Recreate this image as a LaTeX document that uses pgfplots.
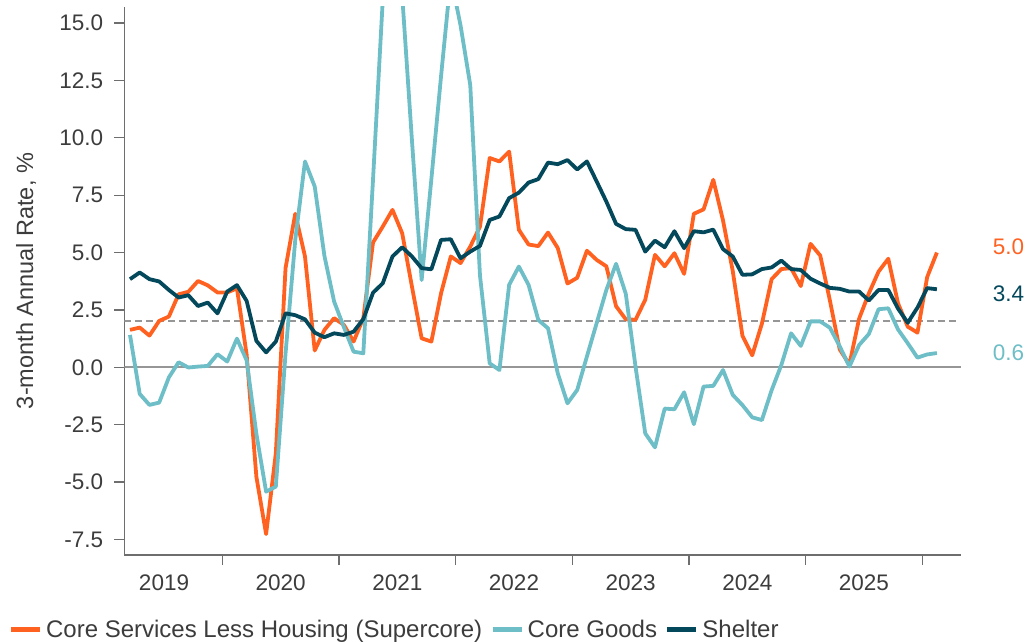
\documentclass[border=0pt]{standalone}
\usepackage{fontspec}
\setmainfont{Liberation Sans}
\usepackage{pgfplots}
\pgfplotsset{compat=1.18}
\usepackage{pgfplotstable}
\definecolor{cOrange}{RGB}{255,98,32}
\definecolor{cCyan}{RGB}{110,190,199}
\definecolor{cDark}{RGB}{4,72,92}
\definecolor{cText}{RGB}{60,60,60}
\definecolor{cAxis}{RGB}{110,110,110}
\definecolor{cRef}{RGB}{150,150,150}

% month index 0..83
\pgfplotstableread{
i v
0 1.63
1 1.73
2 1.38
3 2.02
4 2.21
5 3.18
6 3.29
7 3.76
8 3.57
9 3.26
10 3.26
11 3.44
12 0.55
13 -4.77
14 -7.27
15 -3.75
16 4.32
17 6.69
18 4.83
19 0.73
20 1.63
21 2.14
22 1.85
23 1.12
24 2.14
25 5.44
26 6.13
27 6.86
28 5.84
29 3.52
30 1.26
31 1.12
32 3.23
33 4.83
34 4.54
35 5.26
36 6.13
37 9.12
38 8.97
39 9.40
40 5.99
41 5.35
42 5.28
43 5.87
44 5.20
45 3.65
46 3.90
47 5.08
48 4.68
49 4.40
50 2.66
51 2.09
52 2.07
53 2.94
54 4.90
55 4.40
56 4.97
57 4.07
58 6.69
59 6.88
60 8.17
61 6.40
62 4.20
63 1.37
64 0.52
65 1.90
66 3.84
67 4.28
68 4.32
69 3.54
70 5.38
71 4.87
72 2.90
73 0.78
74 0.12
75 2.12
76 3.22
77 4.17
78 4.73
79 2.79
80 1.77
81 1.51
82 3.93
83 5.00
}\supercore

\pgfplotstableread{
i v
0 1.41
1 -1.16
2 -1.64
3 -1.54
4 -0.44
5 0.22
6 -0.01
7 0.03
8 0.06
9 0.57
10 0.25
11 1.25
12 0.30
13 -2.90
14 -5.42
15 -5.20
16 0.60
17 5.55
18 8.97
19 7.88
20 4.85
21 2.86
22 1.75
23 0.68
24 0.61
25 8.20
26 16.0
27 24.0
28 16.2
29 9.90
30 3.80
31 8.20
32 12.7
33 17.0
34 14.9
35 12.3
36 4.00
37 0.17
38 -0.12
39 3.59
40 4.39
41 3.59
42 2.06
43 1.70
44 -0.26
45 -1.57
46 -0.99
47 0.47
48 1.92
49 3.37
50 4.51
51 3.20
52 0.03
53 -2.88
54 -3.49
55 -1.80
56 -1.83
57 -1.09
58 -2.48
59 -0.84
60 -0.81
61 -0.12
62 -1.20
63 -1.65
64 -2.18
65 -2.30
66 -1.00
67 0.10
68 1.48
69 0.93
70 2.00
71 2.00
72 1.72
73 0.92
74 0.03
75 0.97
76 1.45
77 2.53
78 2.57
79 1.65
80 1.05
81 0.42
82 0.56
83 0.62
}\coregoods

\pgfplotstableread{
i v
0 3.84
1 4.13
2 3.84
3 3.74
4 3.37
5 3.04
6 3.14
7 2.67
8 2.82
9 2.35
10 3.30
11 3.58
12 2.89
13 1.15
14 0.65
15 1.12
16 2.35
17 2.27
18 2.09
19 1.51
20 1.31
21 1.48
22 1.41
23 1.55
24 2.10
25 3.25
26 3.66
27 4.83
28 5.23
29 4.83
30 4.32
31 4.27
32 5.55
33 5.58
34 4.75
35 5.04
36 5.29
37 6.42
38 6.57
39 7.37
40 7.61
41 8.05
42 8.20
43 8.92
44 8.85
45 9.03
46 8.62
47 8.97
48 8.10
49 7.22
50 6.25
51 6.02
52 5.99
53 5.04
54 5.52
55 5.23
56 5.93
57 5.19
58 5.93
59 5.88
60 6.00
61 5.15
62 4.83
63 4.03
64 4.05
65 4.28
66 4.35
67 4.65
68 4.28
69 4.24
70 3.86
71 3.65
72 3.46
73 3.42
74 3.30
75 3.30
76 2.91
77 3.37
78 3.37
79 2.56
80 1.94
81 2.60
82 3.45
83 3.40
}\shelter

\begin{document}
\begin{tikzpicture}
\begin{axis}[
  at={(124.3bp,87bp)}, anchor=south west,
  scale only axis, width=836.7bp, height=548bp,
  xmin=-0.586, xmax=85.48, ymin=-8.18, ymax=15.70,
  axis x line*=bottom, axis y line*=left,
  axis line style={cAxis, line width=1.3bp},
  tick align=outside, major tick length=10bp,
  tick style={cAxis, line width=1.3bp},
  xtick={9.5,21.5,33.5,45.5,57.5,69.5,81.5},
  xticklabels={2019,2020,2021,2022,2023,2024,2025},
  xticklabel style={xshift=-58.33bp, anchor=north, yshift=-10bp},
  ytick={-7.5,-5,-2.5,0,2.5,5,7.5,10,12.5,15},
  yticklabel={\pgfmathprintnumber[fixed,fixed zerofill,precision=1]{\tick}},
  /pgf/number format/assume math mode=true,
  yticklabel style={anchor=east, xshift=-11bp},
  ticklabel style={font=\fontsize{22.5bp}{27bp}\selectfont, text=cText, inner sep=0pt},
  ylabel={3-month Annual Rate, \%},
  ylabel style={at={(axis description cs:-0.1091,0.5)}, anchor=base, rotate=0,
    font=\fontsize{23.5bp}{28bp}\selectfont, text=cText, inner sep=0pt},
  clip mode=individual,
  legend columns=3,
  legend style={draw=none, fill=none, at={(axis description cs:-0.13816,-0.13653)}, anchor=west,
    font=\fontsize{24bp}{28bp}\selectfont, text=cText, inner sep=0pt, outer sep=0pt,
    nodes={inner sep=0pt},
    /tikz/every odd column/.append style={column sep=3.6bp},
    /tikz/every even column/.append style={column sep=8bp}},
  legend image code/.code={\draw[#1, line width=4.8bp] (0bp,0bp) -- (29bp,0bp);},
]
\addplot[cRef, line width=2bp, forget plot] coordinates {(-0.586,0) (85.48,0)};
\addplot[cRef, line width=1.8bp, dash pattern=on 6.5bp off 4.5bp, forget plot] coordinates {(-0.586,2) (85.3,2)};

\addplot[cOrange, line width=3.8bp, line join=round] table[x=i,y=v]{\supercore};
\addlegendentry{Core Services Less Housing (Supercore)}
\addplot[cCyan, line width=3.8bp, line join=round] table[x=i,y=v]{\coregoods};
\addlegendentry{Core Goods}
\addplot[cDark, line width=3.8bp, line join=round] table[x=i,y=v]{\shelter};
\addlegendentry{Shelter}

\node[anchor=west, inner sep=0pt, text=cOrange, font=\fontsize{22.5bp}{27bp}\selectfont] at (axis cs:88.74,5.25) {5.0};
\node[anchor=west, inner sep=0pt, text=cDark, font=\fontsize{22.5bp}{27bp}\selectfont] at (axis cs:88.74,3.20) {3.4};
\node[anchor=west, inner sep=0pt, text=cCyan, font=\fontsize{22.5bp}{27bp}\selectfont] at (axis cs:88.74,0.62) {0.6};
\end{axis}
\pgfresetboundingbox
\useasboundingbox (0,0) rectangle (1030bp,642bp);
\end{tikzpicture}
\end{document}
